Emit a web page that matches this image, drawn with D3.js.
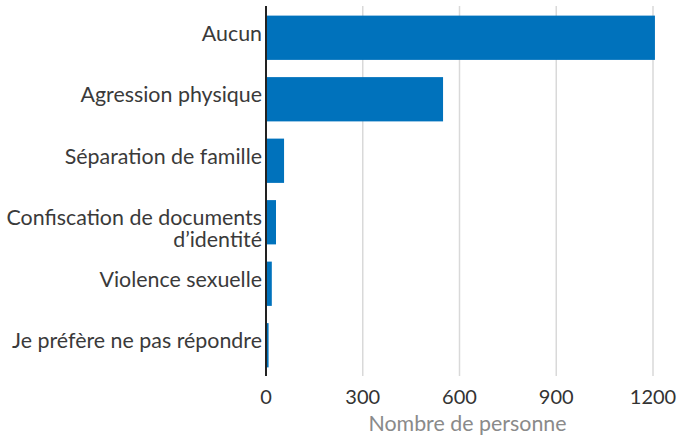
<!doctype html>
<html>
<head>
<meta charset="utf-8">
<script src="https://cdn.jsdelivr.net/npm/d3@7"></script>
<style>
body { margin: 0; background: #fff; }
text { font-family: Lato, "Open Sans", sans-serif; }
</style>
</head>
<body>
<script>
var categories = ["Aucun", "Agression physique", "Séparation de famille",
  "Confiscation de documents|d’identité", "Violence sexuelle", "Je préfère ne pas répondre"];
var values = [1206, 549, 56, 31, 18, 8];
var ticks = [0, 300, 600, 900, 1200];
var axisTitle = "Nombre de personne";

var w = 679, h = 438;
var margin = {top: 6, right: 26, bottom: 62, left: 266};

var svg = d3.select("body").append("svg").attr("width", w).attr("height", h);

var x = d3.scaleLinear().domain([0, 1200]).range([margin.left, margin.left + 387]);
var y = d3.scaleBand().domain(categories).range([margin.top + 1, h - margin.bottom]).paddingInner(0.28).paddingOuter(0.14);

// gridlines
svg.selectAll("line.grid")
   .data(ticks.slice(1))
   .enter().append("line")
   .attr("class", "grid")
   .attr("x1", function(d){ return x(d); })
   .attr("x2", function(d){ return x(d); })
   .attr("y1", margin.top)
   .attr("y2", h - margin.bottom)
   .attr("stroke", "#d9d9d9")
   .attr("stroke-width", 1.5);

// bars
svg.selectAll("rect.bar")
   .data(values)
   .enter().append("rect")
   .attr("class", "bar")
   .attr("x", x(0))
   .attr("y", function(d, i){ return y(categories[i]); })
   .attr("width", function(d){ return x(d) - x(0); })
   .attr("height", y.bandwidth())
   .attr("fill", "#0072bc");

// baseline
svg.append("line")
   .attr("x1", x(0)).attr("x2", x(0))
   .attr("y1", margin.top).attr("y2", h - margin.bottom)
   .attr("stroke", "#222").attr("stroke-width", 2);

// category labels (second line hangs below the first)
svg.selectAll("g.cat")
   .data(categories)
   .enter().append("g")
   .attr("class", "cat")
   .each(function(d){
     var parts = d.split("|");
     var cy = y(d) + y.bandwidth() / 2;
     d3.select(this).selectAll("text")
       .data(parts)
       .enter().append("text")
       .attr("x", x(0) - 4)
       .attr("y", function(p, j){ return cy + 3 + j * 22; })
       .attr("text-anchor", "end")
       .attr("font-size", 21.4)
       .attr("fill", "#3a3a3a")
       .text(function(p){ return p; });
   });

// tick labels
svg.selectAll("text.tick")
   .data(ticks)
   .enter().append("text")
   .attr("class", "tick")
   .attr("x", function(d){ return x(d); })
   .attr("y", h - margin.bottom + 28)
   .attr("text-anchor", "middle")
   .attr("font-size", 20)
   .attr("fill", "#333")
   .text(function(d){ return d; });

svg.append("text")
   .attr("x", x(600) + 8)
   .attr("y", h - 7)
   .attr("text-anchor", "middle")
   .attr("font-size", 21.4)
   .attr("fill", "#8a8a8a")
   .text(axisTitle);
</script>
</body>
</html>
